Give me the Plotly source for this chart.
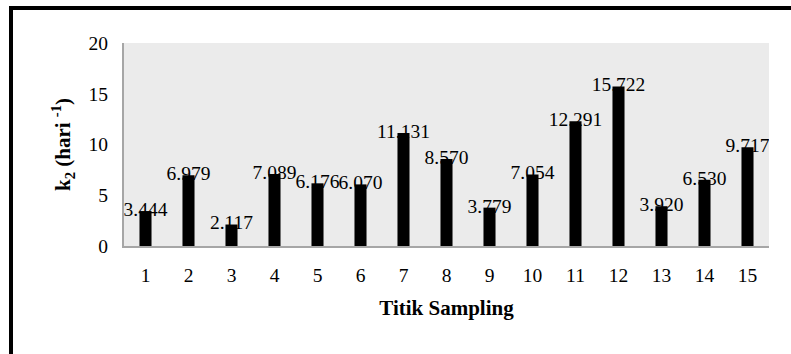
import plotly.graph_objects as go

# Sampling points and reaeration coefficient k2 (per day)
titik = [str(i) for i in range(1, 16)]
k2 = [3.444, 6.979, 2.117, 7.089, 6.176, 6.070, 11.131, 8.570,
      3.779, 7.054, 12.291, 15.722, 3.920, 6.530, 9.717]
y_ticks = [0, 5, 10, 15, 20]

FONT = "Liberation Serif"

fig = go.Figure()

fig.add_trace(go.Bar(
    x=titik, y=k2,
    marker=dict(color="black", line=dict(width=0)),
    width=0.28,
    hoverinfo="skip",
))

# value labels centred on the top of each bar
fig.add_trace(go.Scatter(
    x=titik, y=k2,
    mode="text",
    text=[f"{v:.3f}" for v in k2],
    textposition="middle center",
    textfont=dict(family=FONT, size=19.5, color="black"),
    hoverinfo="skip",
))

W, H = 791, 354
L, R, T, B = 124, 22, 43, 108
pw, ph = W - L - R, H - T - B


def px_x(p):
    return (p - L) / pw


def px_y(p):
    return (H - B - p) / ph


fig.update_layout(
    width=W, height=H,
    margin=dict(l=L, r=R, t=T, b=B, pad=0),
    paper_bgcolor="white",
    plot_bgcolor="#EBEBEB",
    showlegend=False,
    font=dict(family=FONT, size=19, color="black"),
    xaxis=dict(
        type="category",
        range=[-0.5, len(titik) - 0.5],
        showgrid=False,
        zeroline=False,
        showline=True, linecolor="#A6A6A6", linewidth=2,
        ticks="",
        ticklabelstandoff=11,
        tickfont=dict(family=FONT, size=19.5, color="black"),
        title=dict(text="<b>Titik Sampling</b>", standoff=15,
                   font=dict(family=FONT, size=21, color="black")),
    ),
    yaxis=dict(
        range=[0, 20],
        tickvals=y_ticks,
        showgrid=False,
        zeroline=False,
        showline=True, linecolor="#A6A6A6", linewidth=2,
        ticks="",
        ticklabelstandoff=10,
        tickfont=dict(family=FONT, size=19.5, color="black"),
        title=dict(text="<b>k<sub>2</sub> (hari <sup>-1</sup>)</b>", standoff=12,
                   font=dict(family=FONT, size=21, color="black")),
    ),
    shapes=[
        dict(type="rect", xref="paper", yref="paper",
             x0=px_x(11), x1=px_x(W + 20), y0=px_y(H + 20), y1=px_y(8),
             line=dict(color="black", width=4), fillcolor="rgba(0,0,0,0)",
             layer="above"),
    ],
)

fig.write_html("out.html")
